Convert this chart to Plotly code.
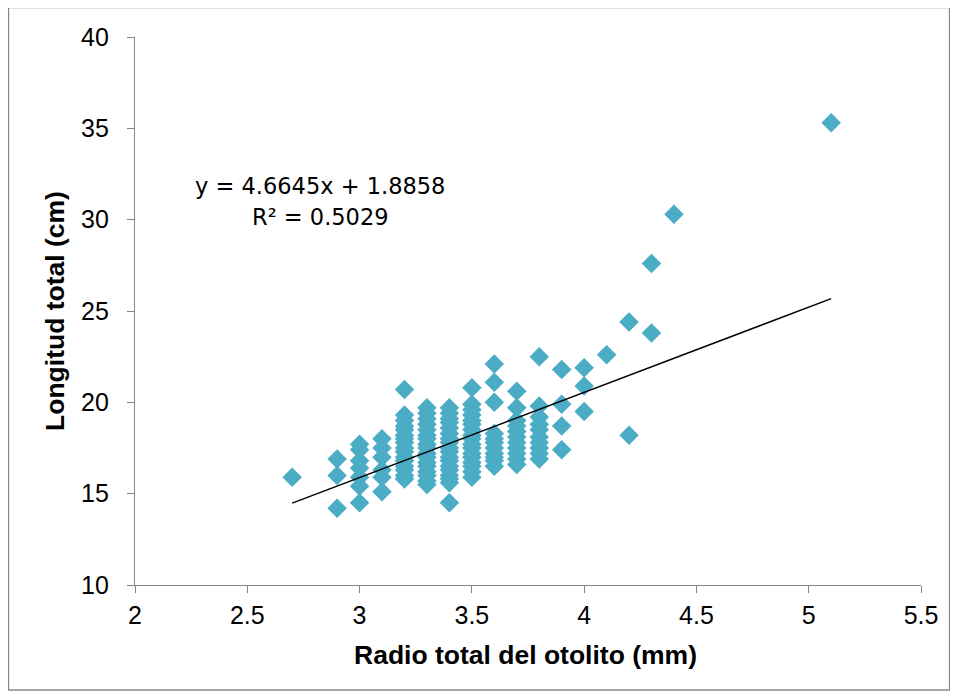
import plotly.graph_objects as go

# ---- data ----
radio = (
    [2.7]
    + [2.9] * 3
    + [3.0] * 7
    + [3.1] * 6
    + [3.2] * 16
    + [3.3] * 17
    + [3.4] * 18
    + [3.5] * 17
    + [3.6] * 11
    + [3.7] * 11
    + [3.8] * 10
    + [3.9] * 4
    + [4.0] * 3
    + [4.1]
    + [4.2] * 2
    + [4.3] * 2
    + [4.4]
    + [5.1]
)
longitud = (
    [15.9]
    + [16.9, 16.0, 14.2]
    + [17.7, 17.4, 16.8, 16.4, 15.9, 15.4, 14.5]
    + [18.0, 17.5, 17.0, 16.3, 15.9, 15.1]
    + [20.7, 19.3, 19.0, 18.7, 18.5, 18.2, 18.0, 17.8, 17.5, 17.3, 17.0, 16.8, 16.5, 16.3, 16.0, 15.8]
    + [19.7, 19.4, 19.1, 18.8, 18.5, 18.2, 18.0, 17.7, 17.5, 17.2, 17.0, 16.7, 16.5, 16.2, 16.0, 15.7, 15.5]
    + [19.7, 19.4, 19.1, 18.9, 18.6, 18.3, 18.0, 17.8, 17.5, 17.3, 17.0, 16.8, 16.5, 16.3, 16.0, 15.8, 15.6, 14.5]
    + [20.8, 19.9, 19.6, 19.3, 19.0, 18.8, 18.5, 18.2, 18.0, 17.7, 17.5, 17.2, 17.0, 16.7, 16.5, 16.2, 15.9]
    + [22.1, 21.1, 20.0, 18.3, 18.0, 17.8, 17.5, 17.2, 17.0, 16.8, 16.5]
    + [20.6, 19.7, 19.0, 18.7, 18.4, 18.1, 17.8, 17.5, 17.2, 16.9, 16.6]
    + [22.5, 19.8, 19.2, 18.8, 18.5, 18.1, 17.8, 17.5, 17.2, 16.9]
    + [21.8, 19.9, 18.7, 17.4]
    + [21.9, 20.9, 19.5]
    + [22.6]
    + [24.4, 18.2]
    + [27.6, 23.8]
    + [30.3]
    + [35.3]
)

slope = 4.6645
intercept = 1.8858
r2 = 0.5029

x_ticks = [2, 2.5, 3, 3.5, 4, 4.5, 5, 5.5]
x_tick_labels = ["2", "2.5", "3", "3.5", "4", "4.5", "5", "5.5"]
y_ticks = [10, 15, 20, 25, 30, 35, 40]
y_tick_labels = ["10", "15", "20", "25", "30", "35", "40"]

FONT = "Liberation Sans, Arial, sans-serif"
EQ_FONT = "DejaVu Sans, sans-serif"
AXIS_COLOR = "#868686"

fig = go.Figure()

fig.add_trace(go.Scatter(
    x=radio, y=longitud, mode="markers",
    marker=dict(symbol="diamond", size=15, color="#4BACC6", line=dict(width=0)),
    showlegend=False, hoverinfo="x+y",
))

x_line = [min(radio), max(radio)]
y_line = [slope * v + intercept for v in x_line]
fig.add_trace(go.Scatter(
    x=x_line, y=y_line, mode="lines",
    line=dict(color="black", width=1.5),
    showlegend=False, hoverinfo="skip",
))

fig.update_layout(
    width=950, height=690,
    margin=dict(l=127, r=37, t=29, b=113),
    paper_bgcolor="white", plot_bgcolor="white",
    font=dict(family=FONT, color="black"),
    xaxis=dict(
        range=[2, 5.5], tickvals=x_ticks, ticktext=x_tick_labels,
        showgrid=False, zeroline=False,
        showline=True, linecolor=AXIS_COLOR, linewidth=1.3,
        ticks="outside", ticklen=7, tickwidth=1.3, tickcolor=AXIS_COLOR,
        tickfont=dict(size=25, family=FONT, color="black"),
        ticklabelstandoff=1,
    ),
    yaxis=dict(
        range=[10, 40], tickvals=y_ticks, ticktext=y_tick_labels,
        showgrid=False, zeroline=False,
        showline=True, linecolor=AXIS_COLOR, linewidth=1.3,
        ticks="outside", ticklen=7, tickwidth=1.3, tickcolor=AXIS_COLOR,
        tickfont=dict(size=25, family=FONT, color="black"),
        ticklabelstandoff=13,
    ),
)

annotations = [
    dict(text=f"y = {slope}x + {intercept}", x=0.2354, y=0.7272,
         font=dict(size=22.5, family=EQ_FONT, color="black")),
    dict(text=f"R² = {r2}", x=0.2354, y=0.6724,
         font=dict(size=22.5, family=EQ_FONT, color="black")),
    dict(text="<b>Radio total del otolito (mm)</b>", x=0.4962, y=-0.1277,
         font=dict(size=26.5, family=FONT, color="black")),
    dict(text="<b>Longitud total (cm)</b>", x=-0.1018, y=0.5, textangle=-90,
         font=dict(size=26.5, family=FONT, color="black")),
]
for a in annotations:
    a.update(xref="paper", yref="paper", showarrow=False,
             xanchor="center", yanchor="middle")
fig.update_layout(annotations=annotations)

fig.add_shape(type="rect", xref="paper", yref="paper",
              x0=-0.1609, x1=1.0363, y0=-0.1916, y1=1.0538,
              line=dict(color=AXIS_COLOR, width=1.3), fillcolor="rgba(0,0,0,0)",
              layer="below")

fig.write_html("out.html")
